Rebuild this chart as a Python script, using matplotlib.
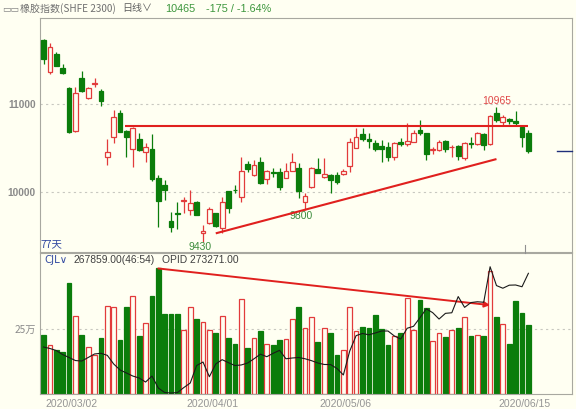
import matplotlib
matplotlib.use('Agg')
import matplotlib.pyplot as plt

W, H = 576, 409
BG = '#FFFFF2'
GREEN = '#0B7D0B'
RED = '#E23B3B'
LINE_RED = '#E0201E'
GRID = '#C8C8C0'
TXT_GRAY = '#8A8A8A'

# ---------------- data ----------------
date_labels = ['2020/03/02', '2020/04/01', '2020/05/06', '2020/06/15']
date_index = [0, 22, 43, 71]

opens = [11731, 11364, 11568, 11409, 11182, 10700, 11295, 11068, 11235, 11155,
         10405, 10625, 10898, 10697, 10492, 10606, 10455, 10489, 10159, 10083,
         9670, 9769, 9905, 9800, 9894, 9540, 9655, 9761, 9598, 10019,
         10030, 9950, 10318, 10197, 10348, 10148, 10230, 10235, 10167, 10246,
         10272, 9894, 10064, 10261, 10178, 10197, 10197, 10208, 10299, 10507,
         10659, 10602, 10564, 10530, 10519, 10397, 10575, 10549, 10575, 10708,
         10670, 10480, 10480, 10586, 10515, 10526, 10386, 10564, 10548, 10662,
         10545, 10905, 10802, 10829, 10814, 10745, 10677]
highs = [11740, 11700, 11590, 11455, 11200, 11200, 11383, 11200, 11295, 11170,
         10602, 10935, 10935, 10708, 10746, 10678, 10565, 10659, 10197, 10140,
         9780, 9894, 9950, 10026, 9900, 9630, 9830, 9770, 9950, 10020,
         10083, 10405, 10360, 10367, 10405, 10255, 10272, 10272, 10329, 10443,
         10329, 9988, 10291, 10386, 10386, 10208, 10230, 10260, 10613, 10727,
         10727, 10678, 10595, 10595, 10575, 10575, 10613, 10784, 10708, 10821,
         10677, 10510, 10590, 10600, 10540, 10540, 10575, 10632, 10690, 10670,
         10878, 10965, 10880, 10850, 10927, 10760, 10708]
lows = [11455, 11345, 11430, 11350, 10670, 10690, 11140, 11060, 11200, 10980,
        10310, 10565, 10680, 10400, 10284, 10470, 10348, 10133, 9610, 9913,
        9553, 9580, 9769, 9745, 9740, 9430, 9640, 9610, 9534, 9761,
        9988, 9894, 10235, 10180, 10100, 10100, 10170, 10026, 10160, 10240,
        9932, 9799, 10045, 10220, 10159, 9996, 10100, 10200, 10235, 10500,
        10580, 10500, 10470, 10348, 10360, 10367, 10530, 10530, 10570, 10650,
        10367, 10440, 10470, 10460, 10405, 10367, 10367, 10500, 10540, 10480,
        10540, 10800, 10760, 10780, 10760, 10518, 10450]
closes = [11511, 11648, 11436, 11352, 10682, 11125, 11155, 11182, 11245, 11042,
          10455, 10860, 10689, 10633, 10727, 10481, 10519, 10155, 9901, 10026,
          9610, 9754, 9915, 9883, 9742, 9560, 9810, 9617, 9886, 9825,
          10022, 10242, 10265, 10310, 10110, 10242, 10225, 10057, 10242, 10341,
          10019, 9958, 10272, 10223, 10208, 10140, 10121, 10242, 10575, 10632,
          10602, 10587, 10492, 10492, 10397, 10557, 10549, 10587, 10677, 10677,
          10435, 10495, 10575, 10488, 10520, 10412, 10564, 10548, 10677, 10537,
          10867, 10821, 10851, 10814, 10783, 10632, 10465]

# volume (unit: 万)
volumes = [22.8, 18.8, 17.0, 16.2, 42.7, 30.0, 22.8, 18.1, 15.0, 21.7,
           34.0, 33.7, 20.8, 33.7, 37.9, 22.4, 27.4, 37.9, 48.4, 30.8,
           30.8, 30.9, 24.7, 33.7, 28.8, 27.8, 24.7, 23.7, 30.3, 21.8,
           19.3, 36.8, 18.0, 21.7, 24.5, 19.2, 19.0, 20.9, 21.2, 28.8,
           33.4, 25.4, 29.6, 20.2, 25.4, 23.4, 15.1, 17.0, 33.4, 24.3,
           26.0, 25.6, 30.5, 25.0, 19.0, 22.4, 23.4, 36.9, 24.7, 36.3,
           33.3, 20.5, 23.4, 21.9, 24.7, 25.4, 29.6, 22.5, 23.0, 22.5,
           47.5, 29.6, 27.1, 19.2, 36.0, 31.1, 26.79]

# open interest (unit: 万)
opid = [19.82, 19.67, 19.46, 19.05, 18.75, 18.44, 18.39, 18.75, 19.11, 19.18,
        18.97, 18.09, 17.48, 17.17, 16.86, 16.66, 16.25, 16.86, 15.64, 15.18,
        15.13, 15.18, 15.69, 16.15, 17.93, 18.29, 16.79, 18.09, 18.53, 18.22,
        17.93, 17.99, 18.19, 18.62, 19.09, 18.83, 19.18, 19.48, 18.62, 18.70,
        18.75, 18.62, 18.43, 18.19, 18.04, 18.03, 17.63, 16.97, 19.41, 20.98,
        21.20, 21.06, 21.25, 21.45, 21.45, 20.94, 20.63, 21.73, 21.93, 22.80,
        23.71, 23.32, 22.67, 23.25, 23.31, 24.96, 23.86, 24.35, 24.43, 24.38,
        28.00, 26.08, 25.81, 26.12, 26.14, 25.96, 27.33]

# annotation lines (index, price)
resistance_level = 10750
resistance_span = (12.8, 75.9)
support_start = (27, 9534)
support_end = (71, 10378)
vol_arrow_start = (18, 48.4)
vol_arrow_end = (70, 34.3)
last_price = 10465

# ---------------- figure ----------------
fig = plt.figure(figsize=(W / 100, H / 100), dpi=100, facecolor=BG)


def fx(px):
    return px / W


def fy(py):
    return 1 - py / H


x0, x1 = 40, 572
ax_p = fig.add_axes([fx(x0), fy(252), fx(x1) - fx(x0), fy(18) - fy(252)])
ax_v = fig.add_axes([fx(x0), fy(394.3), fx(x1) - fx(x0), fy(253) - fy(394.3)])

step = 6.38
xl = ((x0 - 43.5) / step, (x1 - 43.5) / step)

for ax in (ax_p, ax_v):
    ax.set_facecolor(BG)
    ax.set_xlim(*xl)
    for s in ax.spines.values():
        s.set_color('#A8A8A0')
        s.set_linewidth(0.8)
    ax.tick_params(axis='both', length=0, pad=3, labelsize=7.3, colors=TXT_GRAY)
    ax.set_xticks([])

ax_p.set_ylim(9322, 11981)
ax_v.set_ylim(0, 54.35)

# grid
for lvl in (10000, 11000):
    ax_p.axhline(lvl, color=GRID, lw=0.8, ls=(0, (2, 3)), zorder=0)
ax_v.axhline(25, color=GRID, lw=0.8, ls=(0, (2, 3)), zorder=0)

ax_p.set_yticks([10000, 11000])
ax_p.set_yticklabels(['10000', '11000'], fontfamily='Liberation Sans',
                     fontweight='bold', color=TXT_GRAY)
ax_v.set_yticks([25])
ax_v.set_yticklabels(['25万'], fontfamily=['Noto Sans CJK SC', 'DejaVu Sans'],
                     color=TXT_GRAY)

# candles
n = len(opens)
bw = 0.74
for i in range(n):
    o, h, l, c = opens[i], highs[i], lows[i], closes[i]
    up = c >= o
    col = RED if up else GREEN
    top, bot = max(o, c), min(o, c)
    ax_p.vlines(i, top, h, color=col, lw=0.9, zorder=2)
    ax_p.vlines(i, l, bot, color=col, lw=0.9, zorder=2)
    hgt = max(top - bot, 3)
    ax_p.bar(i, hgt, bottom=bot, width=bw, facecolor=BG if up else col,
             edgecolor=col, lw=0.9, zorder=3)
    ax_v.bar(i, volumes[i], width=bw, facecolor=BG if up else col,
             edgecolor=col, lw=0.9, zorder=2)

# trend lines
ax_p.plot(resistance_span, [resistance_level, resistance_level],
          color=LINE_RED, lw=1.5, zorder=4, solid_capstyle='butt')
ax_p.plot([support_start[0], support_end[0]], [support_start[1], support_end[1]],
          color=LINE_RED, lw=1.5, zorder=4, solid_capstyle='butt')

# last price marker
ax_p.plot([80.5, xl[1]], [last_price, last_price], color='#1F2F7A', lw=1.0, zorder=4,
          clip_on=False)

# labels on price panel
lab_font = dict(fontfamily='Liberation Sans', fontsize=7.5)
ax_p.annotate('9430', xy=(25, 9430), xytext=(-2, 0), textcoords='offset points',
              ha='center', va='top', color='#3C8C3C', **lab_font)
ax_p.annotate('9800', xy=(41, 9799), xytext=(-3, -1), textcoords='offset points',
              ha='center', va='top', color='#3C8C3C', **lab_font)
ax_p.annotate('10965', xy=(71, 10965), xytext=(0, 1), textcoords='offset points',
              ha='center', va='bottom', color='#E04848', **lab_font)
ax_p.text(0.0, 0.012, '77天', transform=ax_p.transAxes, ha='left', va='bottom',
          fontsize=7.5, color='#3048A0',
          fontfamily=['Noto Sans CJK SC', 'DejaVu Sans'])

# open interest line on a twin axis
ax_o = ax_v.twinx()
ax_o.set_ylim(15, 29.40)
ax_o.set_xlim(*xl)
ax_o.axis('off')
ax_o.plot(range(n), opid, color='#1A1A1A', lw=0.8, zorder=5)

# volume arrow
ax_o.annotate('', xy=(vol_arrow_end[0], 15 + vol_arrow_end[1] * 14.4 / 54.35),
              xytext=(vol_arrow_start[0], 15 + vol_arrow_start[1] * 14.4 / 54.35),
              arrowprops=dict(arrowstyle='-|>', color=LINE_RED, lw=1.4,
                              mutation_scale=8, shrinkA=0, shrinkB=0))

# date labels
for lab, i in zip(date_labels, date_index):
    ax_v.annotate(lab, xy=(i, 0), xycoords=('data', 'axes fraction'),
                  xytext=(1.5, -3.5), textcoords='offset points',
                  ha='left', va='top', fontsize=7.5, color='#959595',
                  fontfamily='Liberation Sans', annotation_clip=False)

# volume header
vy = fy(260)
fig.text(fx(44), vy, 'CJL∨', color='#3048A0', fontsize=7.3, va='center',
         fontfamily=['DejaVu Sans'])
fig.text(fx(74), vy, '267859.00(46:54)', color='#404040', fontsize=7.4, va='center',
         fontfamily='Liberation Sans')
fig.text(fx(162), vy, 'OPID 273271.00', color='#404040', fontsize=7.4, va='center',
         fontfamily='Liberation Sans')

# top header
hy = fy(8.5)
cjk = ['Noto Sans CJK SC', 'DejaVu Sans']
fig.text(fx(2), hy, '▭▭', color='#808080', fontsize=6.5, va='center',
         fontfamily='DejaVu Sans')
fig.text(fx(20), hy, '橡胶指数(SHFE 2300)', color='#707070', fontsize=7.2,
         va='center', fontfamily=cjk)
fig.text(fx(122), hy, '日线∨', color='#606060', fontsize=7.2, va='center',
         fontfamily=cjk)
fig.text(fx(165), hy, '10465', color='#3C963C', fontsize=7.8, va='center',
         fontfamily='Liberation Sans')
fig.text(fx(206), hy, '-175 / -1.64%', color='#3C963C', fontsize=7.8, va='center',
         fontfamily='Liberation Sans')

# small cursor tick between panels
fig.add_artist(plt.Line2D([fx(525), fx(525)], [fy(245), fy(253)],
                          color='#909090', lw=0.8))

fig.savefig('out.png', dpi=100, facecolor=BG)
